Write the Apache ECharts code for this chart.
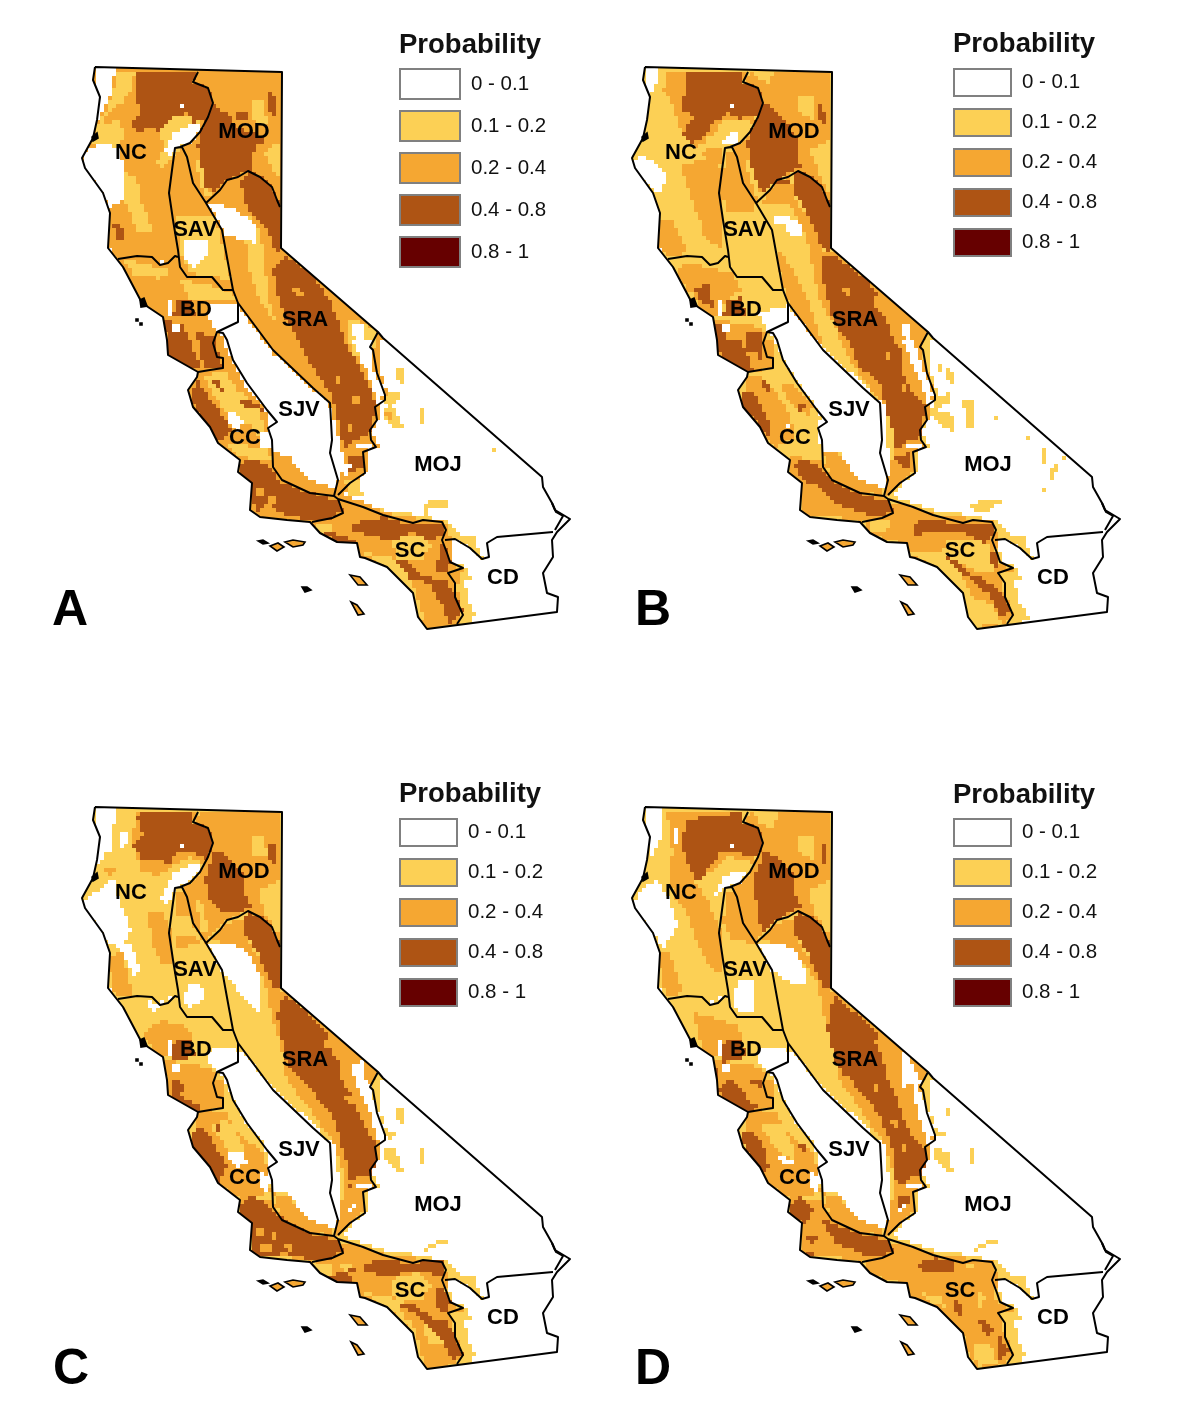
<!DOCTYPE html>
<html>
<head>
<meta charset="utf-8">
<title>Probability maps</title>
<script src="https://cdn.jsdelivr.net/npm/echarts@6/dist/echarts.min.js"></script>
<style>
    html, body { margin: 0; padding: 0; background: #fff; }
    #chart { width: 1200px; height: 1412px; }
</style>
</head>
<body>
<div id="chart"></div>
<script>
// legend classes
var classNames = ['0 - 0.1', '0.1 - 0.2', '0.2 - 0.4', '0.4 - 0.8', '0.8 - 1'];
var classColors = ['#ffffff', '#fcd055', '#f5a732', '#ae5414', '#660000'];
var panelLetters = ['A', 'B', 'C', 'D'];

// map shapes, in map units shared by all four panels
var stateOutline = [[95,67],[282,72],[281,248],[378,332],[383,338],[542,477],[543,487],[552,503],[555,510],[570,519],[557,532],[552,540],[553,557],[543,573],[547,593],[558,597],[557,612],[427,629],[418,617],[413,593],[387,567],[365,558],[360,557],[357,543],[337,542],[320,533],[310,522],[287,520],[260,517],[250,510],[252,483],[238,472],[240,460],[218,443],[210,427],[193,407],[188,390],[197,377],[198,372],[168,355],[167,340],[163,317],[142,303],[123,267],[108,248],[110,213],[103,193],[85,168],[82,158],[93,138],[97,120],[100,97],[93,80]];
var regionLines = [
    [[198,72],[193,82],[208,88],[213,103],[208,117],[200,132],[190,143],[180,147],[175,148],[172,170],[169,193],[173,220],[178,250],[180,267],[187,277],[212,277],[223,290],[233,290],[228,263],[222,230],[206,203],[193,183],[187,157],[182,147],[175,148]],
    [[118,259],[137,256],[152,257],[160,265],[168,263],[175,256],[178,257]],
    [[206,203],[220,190],[227,180],[238,177],[248,171],[260,177],[272,187],[277,200],[280,207]],
    [[233,290],[238,303],[238,322],[217,332],[213,343],[217,357],[223,358],[223,368],[210,370],[198,372]],
    [[238,303],[273,350],[313,388],[330,403],[332,440],[330,453],[338,480],[334,496]],
    [[217,332],[223,333],[227,340],[233,360],[247,383],[267,410],[277,422],[268,428],[272,440],[273,467],[282,480],[310,493],[334,496],[338,499]],
    [[378,332],[370,347],[373,350],[377,373],[385,395],[385,400],[375,407],[377,420],[370,430],[371,440],[376,447],[363,452],[365,473],[350,483],[338,495]],
    [[338,499],[363,507],[383,515],[413,523],[423,520],[442,522],[446,530],[442,540],[447,553],[450,562],[463,568],[448,573],[455,583],[455,597],[463,615],[457,624]],
    [[338,499],[343,513],[332,518],[312,522]],
    [[445,540],[455,539],[470,548],[482,559],[489,557],[487,543],[497,537],[553,532]],
    [[552,503],[556,512],[563,516],[555,530]]
];
var islands = [
    [[270,546],[278,543],[284,547],[277,551]],
    [[285,542],[293,540],[305,542],[303,545],[293,547]],
    [[350,575],[360,577],[367,585],[358,585]],
    [[351,602],[357,605],[364,614],[358,615]]
];
var rocks = [
    [[258,541],[263,540],[268,543],[263,544]],
    [[302,587],[307,587],[311,590],[305,592]],
    [[136,319],[138,319],[138,321],[136,321]],
    [[140,323],[142,323],[142,325],[140,325]],
    [[140,300],[144,298],[147,306],[141,307]],
    [[92,137],[97,133],[98,138],[93,141]]
];
var regionNames = ['NC', 'MOD', 'SAV', 'BD', 'SRA', 'SJV', 'CC', 'MOJ', 'SC', 'CD'];
var regionSpots = [[131,153],[244,132],[195,230],[196,310],[305,320],[299,410],[245,438],[438,465],[410,551],[503,578]];

// everything that is not desert or valley starts out as 0.1 - 0.2
var landBase = [[77,60],[285,60],[285,250],[385,335],[378,350],[380,373],[388,395],[378,407],[380,420],[373,430],[374,440],[379,447],[366,452],[368,473],[353,483],[345,497],[383,511],[420,515],[450,523],[458,537],[473,537],[476,548],[482,558],[470,547],[455,540],[445,541],[449,553],[452,562],[464,567],[470,578],[463,583],[468,600],[474,617],[470,626],[430,635],[400,640],[330,560],[230,530],[160,400],[150,340],[77,170]];

// panel A
var aYellow = [landBase,
    [[395,367],[403,370],[403,382],[397,377]], [[383,392],[402,390],[400,400],[387,408]], [[382,408],[393,408],[403,428],[397,428],[383,418]],
    [[418,405],[423,407],[423,425],[420,423]], [[423,502],[447,501],[447,506],[430,507],[427,515],[423,515]], [[493,448],[496,448],[496,451],[493,451]]];
var aOrange = [
    [[77,60],[285,60],[285,250],[385,335],[378,350],[380,373],[388,395],[378,407],[380,420],[373,430],[374,440],[379,447],[366,452],[368,473],[353,483],[345,495],[370,507],[400,517],[430,519],[445,522],[450,540],[452,565],[462,572],[456,590],[462,612],[458,625],[430,635],[400,640],[330,560],[230,530],[160,400],[150,340],[77,170]],
    [[385,410],[392,410],[392,418],[385,416]]];
var aPale = [
    [[117,70],[137,70],[130,93],[123,103],[108,113],[100,130],[95,127],[105,110],[113,93]], [[98,125],[117,120],[125,135],[118,148],[92,145]],
    [[122,170],[137,180],[143,210],[152,233],[138,230],[130,210],[122,193]], [[160,123],[180,113],[200,123],[193,140],[163,167],[155,163],[163,147]],
    [[250,100],[263,100],[267,125],[253,120]], [[263,150],[280,140],[280,177],[272,167]], [[195,160],[203,165],[210,195],[205,200]],
    [[175,217],[213,217],[223,247],[230,280],[190,273],[180,247]], [[180,280],[225,290],[237,300],[190,300]], [[125,260],[160,268],[175,272],[160,278],[135,275]],
    [[243,215],[257,225],[265,260],[267,295],[275,320],[260,300],[248,265]], [[348,318],[378,333],[373,350],[357,360],[350,345]],
    [[363,553],[387,557],[407,573],[420,607],[425,623],[417,613],[410,590],[387,567]], [[393,540],[417,533],[430,547],[423,560],[397,560]],
    [[205,375],[225,372],[237,390],[260,410],[265,440],[250,425],[232,415],[215,395]], [[227,443],[267,450],[270,460],[240,457]], [[313,522],[335,525],[330,537],[320,533]],
    [[345,480],[360,478],[362,497],[350,497]]];
var aBrown = [
    [[135,72],[197,72],[193,82],[208,88],[212,103],[207,117],[197,123],[187,113],[173,118],[160,130],[147,127],[137,137],[133,120],[142,110],[135,93]],
    [[213,103],[227,117],[237,127],[268,140],[250,153],[253,170],[240,175],[227,180],[218,188],[213,193],[207,183],[200,160],[197,143],[203,120]],
    [[267,90],[272,90],[277,115],[272,118]],
    [[248,171],[260,177],[272,187],[277,200],[281,207],[281,250],[273,248],[267,227],[257,217],[247,207],[243,190],[240,178]],
    [[272,267],[283,257],[310,273],[330,303],[340,327],[347,347],[360,367],[370,390],[375,407],[372,433],[357,440],[345,450],[340,427],[333,397],[317,373],[300,340],[283,313],[277,287]],
    [[347,457],[363,453],[362,468],[350,473]], [[177,300],[190,300],[195,317],[170,317]],
    [[165,320],[183,325],[190,345],[200,368],[185,372],[168,355]], [[197,333],[213,335],[218,355],[222,368],[205,370]],
    [[190,390],[197,380],[207,397],[227,423],[230,433],[220,445],[210,427],[195,408]], [[212,380],[220,380],[222,393]], [[240,398],[260,405],[262,410],[245,408]],
    [[242,460],[250,457],[268,467],[280,483],[307,493],[337,500],[343,512],[330,518],[310,520],[287,515],[270,503],[255,513],[252,483],[238,472]],
    [[363,520],[383,517],[413,525],[423,522],[442,523],[445,537],[430,540],[413,532],[397,540],[378,537],[350,530],[350,525]],
    [[320,530],[345,537],[357,543],[337,543]],
    [[390,560],[403,560],[417,573],[430,577],[447,583],[455,597],[462,613],[450,625],[443,603],[430,583],[413,580],[397,560]],
    [[440,545],[447,553],[450,565],[445,575],[436,570]],
    [[113,223],[120,225],[124,240],[118,240]], [[237,112],[247,112],[247,118],[238,118]], [[202,167],[208,170],[208,187],[204,185]], [[252,142],[256,142],[257,153],[254,153]], [[148,112],[152,112],[152,120],[148,120]]];
var aSpots = [[[254,487],[264,487],[264,497],[254,497]], [[266,495],[274,495],[274,503],[266,503]], [[293,287],[300,285],[302,297],[295,295]], [[335,375],[340,378],[340,386]], [[352,395],[358,395],[358,403],[352,403]], [[347,425],[352,425],[352,435]]];
var aWhite = [
    [[95,67],[117,68],[113,80],[110,97],[100,118],[93,118],[98,97]], [[83,153],[100,142],[117,147],[122,163],[123,200],[112,207],[100,188],[85,167]],
    [[163,150],[173,132],[193,123],[200,127],[192,142],[177,148],[170,157]], [[182,240],[207,242],[208,257],[195,267],[187,263]],
    [[208,203],[227,207],[253,220],[257,243],[237,237],[227,235],[217,217]], [[181,103],[185,103],[185,107],[181,107]],
    [[208,303],[238,302],[239,322],[218,330],[207,313]], [[168,300],[173,300],[171,317],[167,315]], [[170,323],[178,325],[180,333],[172,332]],
    [[158,260],[167,259],[163,265]], [[353,323],[362,327],[367,350],[355,347]], [[353,340],[370,340],[370,363],[385,393],[378,402],[368,373]],
    [[357,443],[373,443],[373,449],[357,449]], [[343,463],[350,467],[347,475]], [[227,410],[243,425],[240,430],[228,420]], [[258,430],[268,430],[270,447],[262,447]],
    [[218,330],[230,360],[242,383],[262,408],[268,420],[267,440],[272,452],[287,457],[307,480],[333,488],[338,477],[345,460],[343,450],[335,423],[332,407],[317,390],[270,347],[240,310]]];

// panel B
var bYellow = [landBase,
    [[387,363],[390,363],[390,370]], [[395,367],[405,373],[405,382],[398,380]], [[385,397],[403,390],[400,403],[383,417],[380,412]], [[383,415],[400,410],[405,433],[395,427]],
    [[407,402],[420,397],[425,413],[423,428],[418,427],[415,408]], [[442,415],[446,415],[446,419],[443,419]], [[477,436],[481,436],[481,439],[477,439]],
    [[493,447],[498,453],[497,465],[493,463]], [[503,463],[512,465],[502,480],[500,473]], [[497,483],[499,484],[492,495],[490,492]], [[513,457],[517,457],[517,460]],
    [[420,503],[437,498],[452,502],[440,510],[427,513]], [[463,600],[472,605],[478,618],[470,625],[460,625]]];
var bOrange = [
    [[117,70],[197,70],[193,82],[208,88],[213,103],[203,123],[190,118],[173,120],[165,135],[147,147],[130,127],[123,103],[113,90]],
    [[130,163],[163,160],[170,170],[172,247],[155,240],[147,210],[135,180]], [[153,150],[172,145],[172,165],[157,168]], [[108,220],[120,217],[137,253],[120,257],[110,247]],
    [[177,150],[187,157],[193,183],[205,203],[203,210],[175,210],[172,177]],
    [[198,72],[282,72],[281,205],[277,200],[272,187],[248,171],[227,180],[206,203],[193,183],[187,157],[182,147],[197,137],[212,103],[208,88],[193,82]],
    [[208,203],[227,180],[240,177],[247,207],[257,217],[267,227],[273,250],[281,250],[378,332],[370,350],[377,373],[385,395],[378,407],[380,420],[370,430],[371,440],[376,447],[363,452],[365,473],[350,483],[338,495],[330,470],[345,450],[345,420],[330,400],[300,360],[283,320],[270,300],[262,265],[255,230],[240,205],[220,203]],
    [[227,250],[240,267],[260,307],[273,348],[260,340],[240,303],[230,273]],
    [[130,263],[157,267],[180,273],[190,290],[175,303],[167,317],[153,313],[140,290],[127,270]], [[165,320],[207,327],[217,333],[215,350],[167,350]], [[167,340],[225,340],[224,368],[198,373],[168,355]],
    [[197,375],[210,375],[228,395],[240,420],[245,440],[227,447],[210,427],[192,405]], [[230,385],[240,385],[262,408],[258,415],[245,408]],
    [[240,457],[270,460],[282,480],[303,490],[333,497],[343,512],[332,518],[312,522],[287,517],[260,517],[250,510],[252,483],[238,472]],
    [[273,453],[287,453],[307,480],[327,487],[333,495],[303,490],[282,480]],
    [[313,522],[337,503],[363,507],[383,515],[443,521],[447,540],[445,560],[463,570],[448,573],[455,597],[463,617],[457,625],[427,629],[420,617],[413,593],[383,567],[360,557],[357,543],[337,540],[320,533]]];
var bPale = [
    [[247,97],[263,95],[265,120],[250,110]], [[257,150],[280,140],[280,195],[277,190],[267,163]], [[205,73],[223,73],[220,83]], [[195,160],[203,165],[210,195],[205,197]],
    [[397,540],[437,540],[443,573],[430,573],[407,560],[390,553]], [[360,553],[387,553],[410,573],[423,600],[440,603],[450,623],[427,627],[417,610],[410,590],[387,567]], [[317,522],[340,520],[337,530],[325,535]]];
var bBrown = [
    [[135,72],[193,73],[193,82],[208,88],[213,103],[207,117],[193,118],[180,113],[170,118],[160,127],[152,140],[143,142],[133,130],[142,117],[130,103],[137,90]],
    [[213,103],[223,110],[247,140],[250,167],[233,178],[220,188],[213,193],[203,173],[197,140],[203,123]], [[267,105],[273,107],[277,125],[271,122]],
    [[248,172],[260,177],[272,187],[277,200],[281,207],[281,250],[273,247],[263,223],[253,203],[243,190],[243,175]], [[228,180],[240,178],[240,185],[228,185]],
    [[272,255],[283,257],[313,277],[327,295],[323,303],[333,317],[343,340],[350,350],[350,373],[360,393],[375,407],[372,437],[360,440],[347,450],[343,433],[337,407],[330,383],[310,367],[300,340],[283,320],[272,277]],
    [[345,455],[360,453],[360,467],[347,463]], [[145,287],[158,283],[163,307],[152,303]], [[177,300],[192,297],[195,317],[170,317]], [[165,323],[175,325],[180,350],[167,350]],
    [[197,333],[210,333],[212,350],[198,350]], [[168,350],[180,340],[190,340],[203,372],[195,372],[180,368]], [[200,340],[212,340],[210,360]],
    [[192,392],[197,390],[207,400],[220,423],[218,437],[213,428],[193,407]], [[210,380],[216,380],[220,393]], [[243,402],[260,407],[252,412]],
    [[242,462],[250,457],[267,467],[283,483],[317,497],[337,500],[343,512],[330,517],[310,513],[287,503],[270,487],[253,480]],
    [[363,523],[373,518],[413,525],[423,522],[442,523],[445,537],[437,542],[417,532],[390,530],[367,535]],
    [[397,557],[407,560],[417,573],[427,577],[450,593],[460,613],[452,620],[440,593],[423,580],[410,570]], [[440,550],[447,555],[448,566],[443,566]]];
var bSpots = [[[293,288],[299,285],[300,296],[295,296]], [[350,385],[355,385],[355,392],[350,392]], [[335,352],[340,352],[340,360]]];
var bWhite = [
    [[95,67],[107,68],[108,80],[103,93],[100,100],[95,87]], [[85,160],[93,155],[103,165],[115,177],[113,197],[105,187],[85,168]],
    [[172,138],[178,132],[190,133],[188,142],[175,147]], [[223,217],[235,217],[250,225],[250,235],[243,235],[235,225],[225,222]], [[181,103],[185,103],[185,107],[181,107]],
    [[168,300],[173,300],[171,317],[167,315]], [[170,323],[178,325],[180,333],[172,332]], [[208,312],[238,305],[239,322],[218,330]],
    [[353,323],[360,327],[362,350],[355,347]], [[353,340],[363,340],[370,363],[383,397],[378,403],[367,370]], [[357,443],[373,442],[373,449],[360,449]],
    [[235,423],[238,423],[238,428]],
    [[218,330],[232,360],[247,383],[262,403],[270,420],[268,440],[272,450],[285,450],[307,480],[333,487],[336,478],[340,462],[336,430],[334,405],[318,388],[272,345],[240,310]]];

// panel C
var cYellow = [landBase,
    [[395,367],[403,370],[403,382],[397,377]], [[387,392],[402,390],[392,400]], [[382,408],[393,407],[403,430],[398,430],[383,418]], [[418,405],[423,407],[423,425],[420,423]],
    [[425,507],[432,502],[447,500],[447,504],[428,508],[427,515]]];
var cOrange = [
    [[135,70],[197,70],[193,82],[208,88],[213,103],[205,123],[190,117],[173,127],[160,135],[143,130],[133,105]],
    [[147,170],[163,173],[170,193],[171,223],[162,223],[152,200]], [[100,127],[117,127],[113,137]], [[108,217],[120,210],[133,257],[118,257],[112,243]],
    [[198,72],[282,72],[281,205],[277,200],[272,187],[248,171],[227,180],[206,203],[193,183],[187,157],[182,147],[197,137],[212,103],[208,88],[193,82]],
    [[177,150],[188,160],[190,177],[175,177]], [[177,195],[195,197],[200,205],[177,207]],
    [[207,198],[227,182],[243,177],[250,207],[267,227],[273,248],[281,250],[378,332],[370,350],[377,373],[385,395],[378,407],[380,420],[370,430],[371,440],[376,447],[363,452],[365,473],[350,483],[338,495],[330,470],[345,450],[345,430],[330,395],[305,360],[287,340],[280,300],[272,275],[265,240],[248,215],[230,205]],
    [[143,293],[160,280],[187,287],[193,300],[170,303],[167,317],[155,313]], [[165,320],[203,327],[217,333],[215,350],[167,350]], [[167,340],[225,340],[224,368],[198,373],[168,355]],
    [[197,373],[225,372],[240,397],[260,410],[267,427],[270,453],[240,457],[220,445],[195,410]],
    [[273,453],[287,457],[307,480],[327,485],[333,495],[303,490],[282,480]],
    [[240,457],[270,460],[282,480],[303,490],[333,497],[343,512],[332,518],[312,522],[287,517],[260,517],[250,510],[252,483],[238,472]],
    [[313,522],[337,503],[363,507],[383,515],[443,521],[447,540],[445,560],[463,570],[448,573],[455,597],[463,617],[457,625],[427,629],[420,617],[413,593],[383,567],[360,557],[357,543],[337,540],[320,533]]];
var cPale = [
    [[250,97],[263,95],[267,117],[253,113]], [[257,150],[280,140],[280,193],[275,193],[262,163]], [[197,160],[203,165],[208,193],[200,190]],
    [[210,385],[225,380],[240,400],[245,415],[232,410]], [[363,553],[387,557],[397,563],[417,597],[423,623],[417,610],[408,585],[387,567]],
    [[390,540],[417,532],[430,547],[423,560],[397,563]], [[422,580],[437,590],[443,605],[430,605]], [[313,522],[335,525],[330,537],[320,533]], [[337,523],[357,522],[347,530]]];
var cBrown = [
    [[137,75],[143,70],[193,73],[193,82],[208,88],[213,103],[207,118],[193,112],[177,112],[170,123],[157,120],[143,120],[133,103],[143,93]],
    [[215,107],[223,117],[243,137],[245,157],[250,167],[237,173],[223,170],[210,160],[205,137]], [[268,105],[275,105],[275,122],[270,118]],
    [[247,172],[260,177],[272,187],[277,200],[281,207],[281,248],[275,247],[260,217],[253,203],[243,187],[243,175]],
    [[283,257],[297,263],[313,280],[328,297],[323,307],[337,317],[340,340],[347,350],[360,380],[377,407],[373,437],[360,437],[347,453],[350,440],[343,407],[333,377],[317,355],[308,345],[287,323],[280,287],[277,273]],
    [[173,302],[192,300],[195,317],[177,320],[170,317]], [[170,340],[180,340],[185,350],[170,350]], [[168,350],[175,340],[180,357],[203,368],[197,372],[178,368]],
    [[192,390],[198,385],[213,403],[227,428],[220,443],[210,427],[193,407]], [[211,383],[218,383],[220,390]],
    [[242,460],[253,455],[270,470],[287,483],[310,495],[337,500],[343,512],[330,518],[310,520],[287,513],[260,517],[250,510],[252,483],[238,472]],
    [[363,523],[383,520],[413,525],[423,520],[442,522],[445,537],[430,532],[413,530],[393,537],[377,533],[363,532]], [[337,532],[357,527],[347,540]], [[327,537],[350,537],[353,543],[337,543]],
    [[397,563],[413,563],[427,577],[447,583],[455,597],[462,615],[453,620],[443,600],[430,587],[417,573]], [[438,545],[447,553],[450,565],[445,575],[437,565]]];
var cSpots = [[[255,487],[265,487],[265,497],[255,497]], [[270,490],[277,490],[277,500],[270,500]], [[258,503],[272,503],[272,511],[258,511]], [[283,505],[290,505],[290,512]], [[350,450],[362,447],[362,465],[352,468]], [[345,357],[350,357],[350,365]]];
var cWhite = [
    [[95,67],[117,70],[112,90],[110,110],[100,125],[93,125],[98,95]], [[118,95],[125,90],[127,105],[120,112]],
    [[85,160],[107,140],[115,143],[117,157],[123,170],[130,193],[123,207],[110,203],[100,188],[85,168]], [[120,205],[130,205],[140,232],[135,235]],
    [[160,160],[173,133],[193,123],[200,127],[193,140],[177,148],[168,163]], [[187,243],[200,243],[205,260],[193,268],[185,260]], [[146,233],[149,233],[149,248],[146,248]],
    [[208,203],[227,203],[247,213],[258,237],[260,277],[253,263],[237,247],[222,230]], [[147,260],[160,267],[155,273]], [[158,260],[170,257],[163,265]], [[181,103],[185,103],[185,107],[181,107]],
    [[168,300],[173,300],[171,317],[167,315]], [[170,323],[178,325],[180,333],[172,332]], [[210,308],[237,308],[239,322],[218,330],[208,323]],
    [[353,323],[363,320],[367,350],[355,347]], [[357,340],[368,340],[373,360],[385,395],[380,403],[370,373]],
    [[357,443],[375,442],[372,448],[358,448]], [[343,467],[360,465],[350,472]], [[227,413],[237,410],[247,423],[237,428]], [[258,430],[268,440],[267,450],[258,443]],
    [[218,330],[228,350],[240,375],[262,405],[268,420],[266,440],[272,450],[285,453],[307,480],[333,487],[338,478],[340,460],[338,430],[334,405],[318,388],[272,345],[240,310]]];

// panel D
var dYellow = [landBase,
    [[395,368],[398,368],[398,374]], [[402,373],[404,373],[404,378]], [[387,390],[400,393],[392,397]], [[383,407],[397,413],[403,430],[398,430],[382,417]], [[418,407],[423,408],[422,425],[418,420]],
    [[425,507],[432,502],[447,500],[447,504],[428,508],[427,515]]];
var dOrange = [
    [[117,70],[193,73],[193,82],[208,88],[213,107],[203,122],[180,117],[167,127],[152,140],[143,140],[123,117],[120,90]],
    [[120,117],[130,120],[140,140],[157,160],[163,177],[170,193],[171,233],[160,227],[147,200],[137,173],[125,157],[118,133]], [[108,213],[118,213],[132,253],[118,257],[112,240]],
    [[198,72],[282,72],[281,205],[277,200],[272,187],[248,171],[227,180],[206,203],[193,183],[187,157],[182,147],[197,137],[212,103],[208,88],[193,82]],
    [[177,150],[188,160],[192,183],[203,203],[180,197],[173,180]],
    [[207,198],[227,182],[243,177],[250,207],[267,227],[273,248],[281,250],[378,332],[370,350],[377,373],[385,395],[378,407],[380,420],[370,430],[371,440],[376,447],[363,452],[365,473],[350,483],[338,495],[330,470],[345,450],[345,430],[330,395],[305,360],[290,340],[283,300],[274,275],[267,240],[248,215],[230,205]],
    [[143,273],[160,277],[187,287],[193,300],[170,303],[167,317],[153,313]], [[165,320],[207,327],[217,333],[215,350],[167,350]], [[167,340],[225,340],[224,368],[198,373],[168,355]],
    [[197,373],[225,372],[240,397],[260,410],[267,427],[270,453],[240,457],[220,445],[195,410]],
    [[273,453],[287,457],[307,480],[327,485],[333,495],[303,490],[282,480]],
    [[240,457],[270,460],[282,480],[303,490],[333,497],[343,512],[332,518],[312,522],[287,517],[260,517],[250,510],[252,483],[238,472]],
    [[313,522],[337,503],[363,507],[383,515],[443,521],[447,540],[445,560],[463,570],[448,573],[455,597],[463,617],[457,625],[427,629],[420,617],[413,593],[383,567],[360,557],[357,543],[337,540],[320,533]]];
var dPale = [
    [[205,73],[228,73],[225,88],[212,85]], [[247,97],[263,95],[265,120],[250,110]], [[257,150],[280,140],[280,193],[275,193],[262,163]],
    [[210,385],[225,382],[240,400],[245,420],[230,410]], [[427,553],[437,557],[430,567]], [[423,603],[440,603],[447,623],[428,627]], [[373,553],[387,557],[397,567],[383,562]], [[410,522],[430,522],[425,528]]];
var dBrown = [
    [[137,80],[163,75],[193,73],[193,82],[208,88],[213,103],[207,117],[190,113],[173,113],[163,123],[152,140],[145,137],[137,120],[130,100]],
    [[215,108],[223,117],[243,137],[245,157],[250,167],[237,175],[227,180],[217,190],[212,193],[208,177],[205,153],[205,130]], [[270,105],[275,105],[276,123],[271,120]],
    [[247,172],[260,177],[272,187],[277,200],[281,207],[281,248],[275,247],[260,217],[253,203],[243,187],[243,175]],
    [[283,257],[297,267],[313,280],[328,297],[325,303],[333,320],[337,340],[343,350],[350,373],[360,397],[377,413],[373,437],[363,437],[347,447],[343,407],[330,377],[317,357],[305,345],[287,323],[277,287],[280,270]],
    [[347,457],[360,453],[360,465],[350,467]], [[173,302],[192,298],[195,317],[177,323],[170,317]], [[168,350],[175,340],[187,343],[197,360],[210,368],[197,372],[180,368]], [[198,340],[212,340],[210,347]],
    [[165,327],[168,327],[170,350],[166,350]], [[192,393],[198,388],[213,405],[218,427],[215,432],[195,408]], [[247,403],[260,408],[255,412]],
    [[242,460],[250,455],[262,473],[257,483],[238,472]], [[273,480],[287,487],[317,495],[337,500],[343,512],[332,517],[310,513],[287,503]], [[257,497],[267,497],[265,505]], [[253,510],[267,512],[260,517]],
    [[367,522],[383,517],[403,522],[402,532],[387,530],[373,530]], [[403,557],[413,570],[412,575],[402,567]], [[430,577],[442,590],[438,595],[428,582]], [[448,597],[458,610],[450,618]]];
var dSpots = [[[340,378],[346,378],[346,386]], [[350,403],[356,403],[356,410]], [[322,345],[327,345],[327,353]]];
var dWhite = [
    [[95,67],[113,70],[113,80],[112,97],[103,115],[98,103]], [[123,88],[127,88],[127,103],[123,103]],
    [[85,160],[97,143],[107,140],[117,157],[128,187],[115,207],[100,188],[85,168]], [[163,157],[173,135],[190,130],[198,128],[190,142],[175,148]],
    [[187,240],[203,240],[205,257],[202,270],[187,270],[183,253]], [[208,203],[227,203],[247,212],[255,233],[257,245],[237,240],[223,230]], [[150,262],[155,262],[155,265]],
    [[158,260],[170,257],[163,265]], [[181,103],[185,103],[185,107],[181,107]], [[168,300],[173,300],[171,317],[167,315]], [[170,323],[178,325],[180,333],[172,332]],
    [[208,308],[237,307],[239,322],[218,330],[208,323]], [[352,313],[357,313],[370,343],[352,347]], [[363,340],[373,360],[385,393],[378,403],[367,367]],
    [[353,443],[373,442],[372,448],[357,448]], [[343,467],[357,463],[350,472]], [[228,415],[243,423],[237,428]], [[258,430],[268,440],[267,450],[258,443]],
    [[218,330],[228,350],[240,375],[262,405],[268,420],[266,440],[272,450],[285,453],[307,480],[333,487],[338,478],[340,460],[338,430],[334,405],[318,388],[272,345],[240,310]]];

var panelLayers = [
    [aYellow, aOrange, aPale, aBrown, aSpots, aWhite],
    [bYellow, bOrange, bPale, bBrown, bSpots, bWhite],
    [cYellow, cOrange, cPale, cBrown, cSpots, cWhite],
    [dYellow, dOrange, dPale, dBrown, dSpots, dWhite]
];
// class painted by each layer, back to front
var layerClass = [1, 2, 1, 3, 2, 0];

var panelOffsets = [[0, 0], [550, 0], [0, 740], [550, 740]];
var legendBoxes = [[399, 68, 60, 30, 10], [953, 68, 57, 27, 11], [399, 818, 57, 27, 11], [953, 818, 57, 27, 11]];
var titleSpots = [[399, 31], [953, 30], [399, 780], [953, 781]];
var letterSpots = [[52, 586], [635, 586], [53, 1345], [635, 1345]];
var cellSize = 4; // size of a raster cell of the source grids

// walks an edge in raster cells so patches keep their blocky look
function toCells(shape) {
    var out = [];
    function snap(v) { return Math.round(v / cellSize) * cellSize; }
    shape.forEach(function (p, i) {
        var q = shape[(i + 1) % shape.length];
        var n = Math.max(1, Math.ceil(Math.max(Math.abs(q[0] - p[0]), Math.abs(q[1] - p[1])) / cellSize));
        var lx = snap(p[0]), ly = snap(p[1]);
        out.push([lx, ly]);
        for (var k = 1; k <= n; k++) {
            var x = snap(p[0] + (q[0] - p[0]) * k / n);
            var y = snap(p[1] + (q[1] - p[1]) * k / n);
            if (x !== lx && y !== ly) { out.push([x, ly]); }
            if (x !== lx || y !== ly) { out.push([x, y]); }
            lx = x;
            ly = y;
        }
    });
    return out;
}

function patchSeries(name, shapes, grid, fill, stroke, smooth) {
    var drawn = smooth ? shapes : shapes.map(toCells);
    return {
        type: 'custom',
        name: name,
        xAxisIndex: grid,
        yAxisIndex: grid,
        silent: true,
        clip: false,
        itemStyle: { color: fill },
        data: shapes.map(function (s, i) { return [s[0][0], s[0][1], i]; }),
        renderItem: function (params, api) {
            return {
                type: 'polygon',
                shape: { points: drawn[api.value(2)].map(function (p) { return api.coord(p); }) },
                style: { fill: fill, stroke: stroke || null, lineWidth: stroke ? 1.6 : 0 }
            };
        }
    };
}

// paints the sea white so the patches stop at the coast
function maskShape() {
    var frame = [[76, 58], [76, 642], [576, 642], [576, 58], [76, 58]];
    return frame.concat(stateOutline, [stateOutline[0]], [[76, 58]]);
}

var series = [], grids = [], xAxes = [], yAxes = [], legends = [], titles = [];
var boundaryLines = [stateOutline.concat([stateOutline[0]])].concat(regionLines);

panelOffsets.forEach(function (off, g) {
    grids.push({ left: off[0], top: off[1], width: 600, height: 660 });
    xAxes.push({ type: 'value', gridIndex: g, min: 0, max: 600, show: false });
    yAxes.push({ type: 'value', gridIndex: g, min: 0, max: 660, inverse: true, show: false });

    // legend swatches come from these two, they carry no shapes of their own
    series.push(patchSeries(classNames[0], [], g, classColors[0]));
    series.push(patchSeries(classNames[4], [], g, classColors[4]));

    panelLayers[g].forEach(function (shapes, k) {
        var c = layerClass[k];
        series.push(patchSeries(classNames[c], shapes, g, classColors[c]));
    });

    series.push(patchSeries('sea', [maskShape()], g, '#fff', null, true));
    series.push(patchSeries('islands', islands, g, classColors[2], '#000', true));
    series.push(patchSeries('rocks', rocks, g, '#000', '#000', true));

    series.push({
        type: 'custom',
        name: 'boundaries',
        xAxisIndex: g,
        yAxisIndex: g,
        silent: true,
        clip: false,
        data: boundaryLines.map(function (s, i) { return [s[0][0], s[0][1], i]; }),
        renderItem: function (params, api) {
            return {
                type: 'polyline',
                shape: { points: boundaryLines[api.value(2)].map(function (p) { return api.coord(p); }) },
                style: { fill: null, stroke: '#000', lineWidth: 2, lineJoin: 'round' }
            };
        }
    });

    series.push({
        type: 'custom',
        name: 'regions',
        xAxisIndex: g,
        yAxisIndex: g,
        silent: true,
        clip: false,
        data: regionSpots.map(function (p, i) { return [p[0], p[1], i]; }),
        renderItem: function (params, api) {
            var pos = api.coord([api.value(0), api.value(1)]);
            return {
                type: 'text',
                x: pos[0],
                y: pos[1],
                style: {
                    text: regionNames[api.value(2)],
                    fill: '#000',
                    font: 'bold 22px "Liberation Sans"',
                    align: 'center',
                    verticalAlign: 'middle'
                }
            };
        }
    });

    var box = legendBoxes[g];
    legends.push({
        orient: 'vertical',
        left: box[0],
        top: box[1],
        padding: 0,
        itemWidth: box[2],
        itemHeight: box[3],
        itemGap: box[4],
        icon: 'rect',
        selectedMode: false,
        data: classNames,
        itemStyle: { borderColor: '#808080', borderWidth: 2 },
        textStyle: { fontFamily: 'Liberation Sans', fontSize: 20.5, color: '#111', padding: [0, 0, 0, 6] }
    });

    titles.push({
        text: 'Probability',
        left: titleSpots[g][0],
        top: titleSpots[g][1],
        padding: 0,
        textStyle: { fontFamily: 'Liberation Sans', fontSize: 27.5, fontWeight: 'bold', color: '#111' }
    });
    titles.push({
        text: panelLetters[g],
        left: letterSpots[g][0],
        top: letterSpots[g][1],
        padding: 0,
        textStyle: { fontFamily: 'Liberation Sans', fontSize: 50, fontWeight: 'bold', color: '#000' }
    });
});

var chart = echarts.init(document.getElementById('chart'), null, { renderer: 'canvas' });
chart.setOption({
    backgroundColor: '#fff',
    animation: false,
    tooltip: { show: false },
    title: titles,
    grid: grids,
    xAxis: xAxes,
    yAxis: yAxes,
    legend: legends,
    series: series
});
</script>
</body>
</html>
